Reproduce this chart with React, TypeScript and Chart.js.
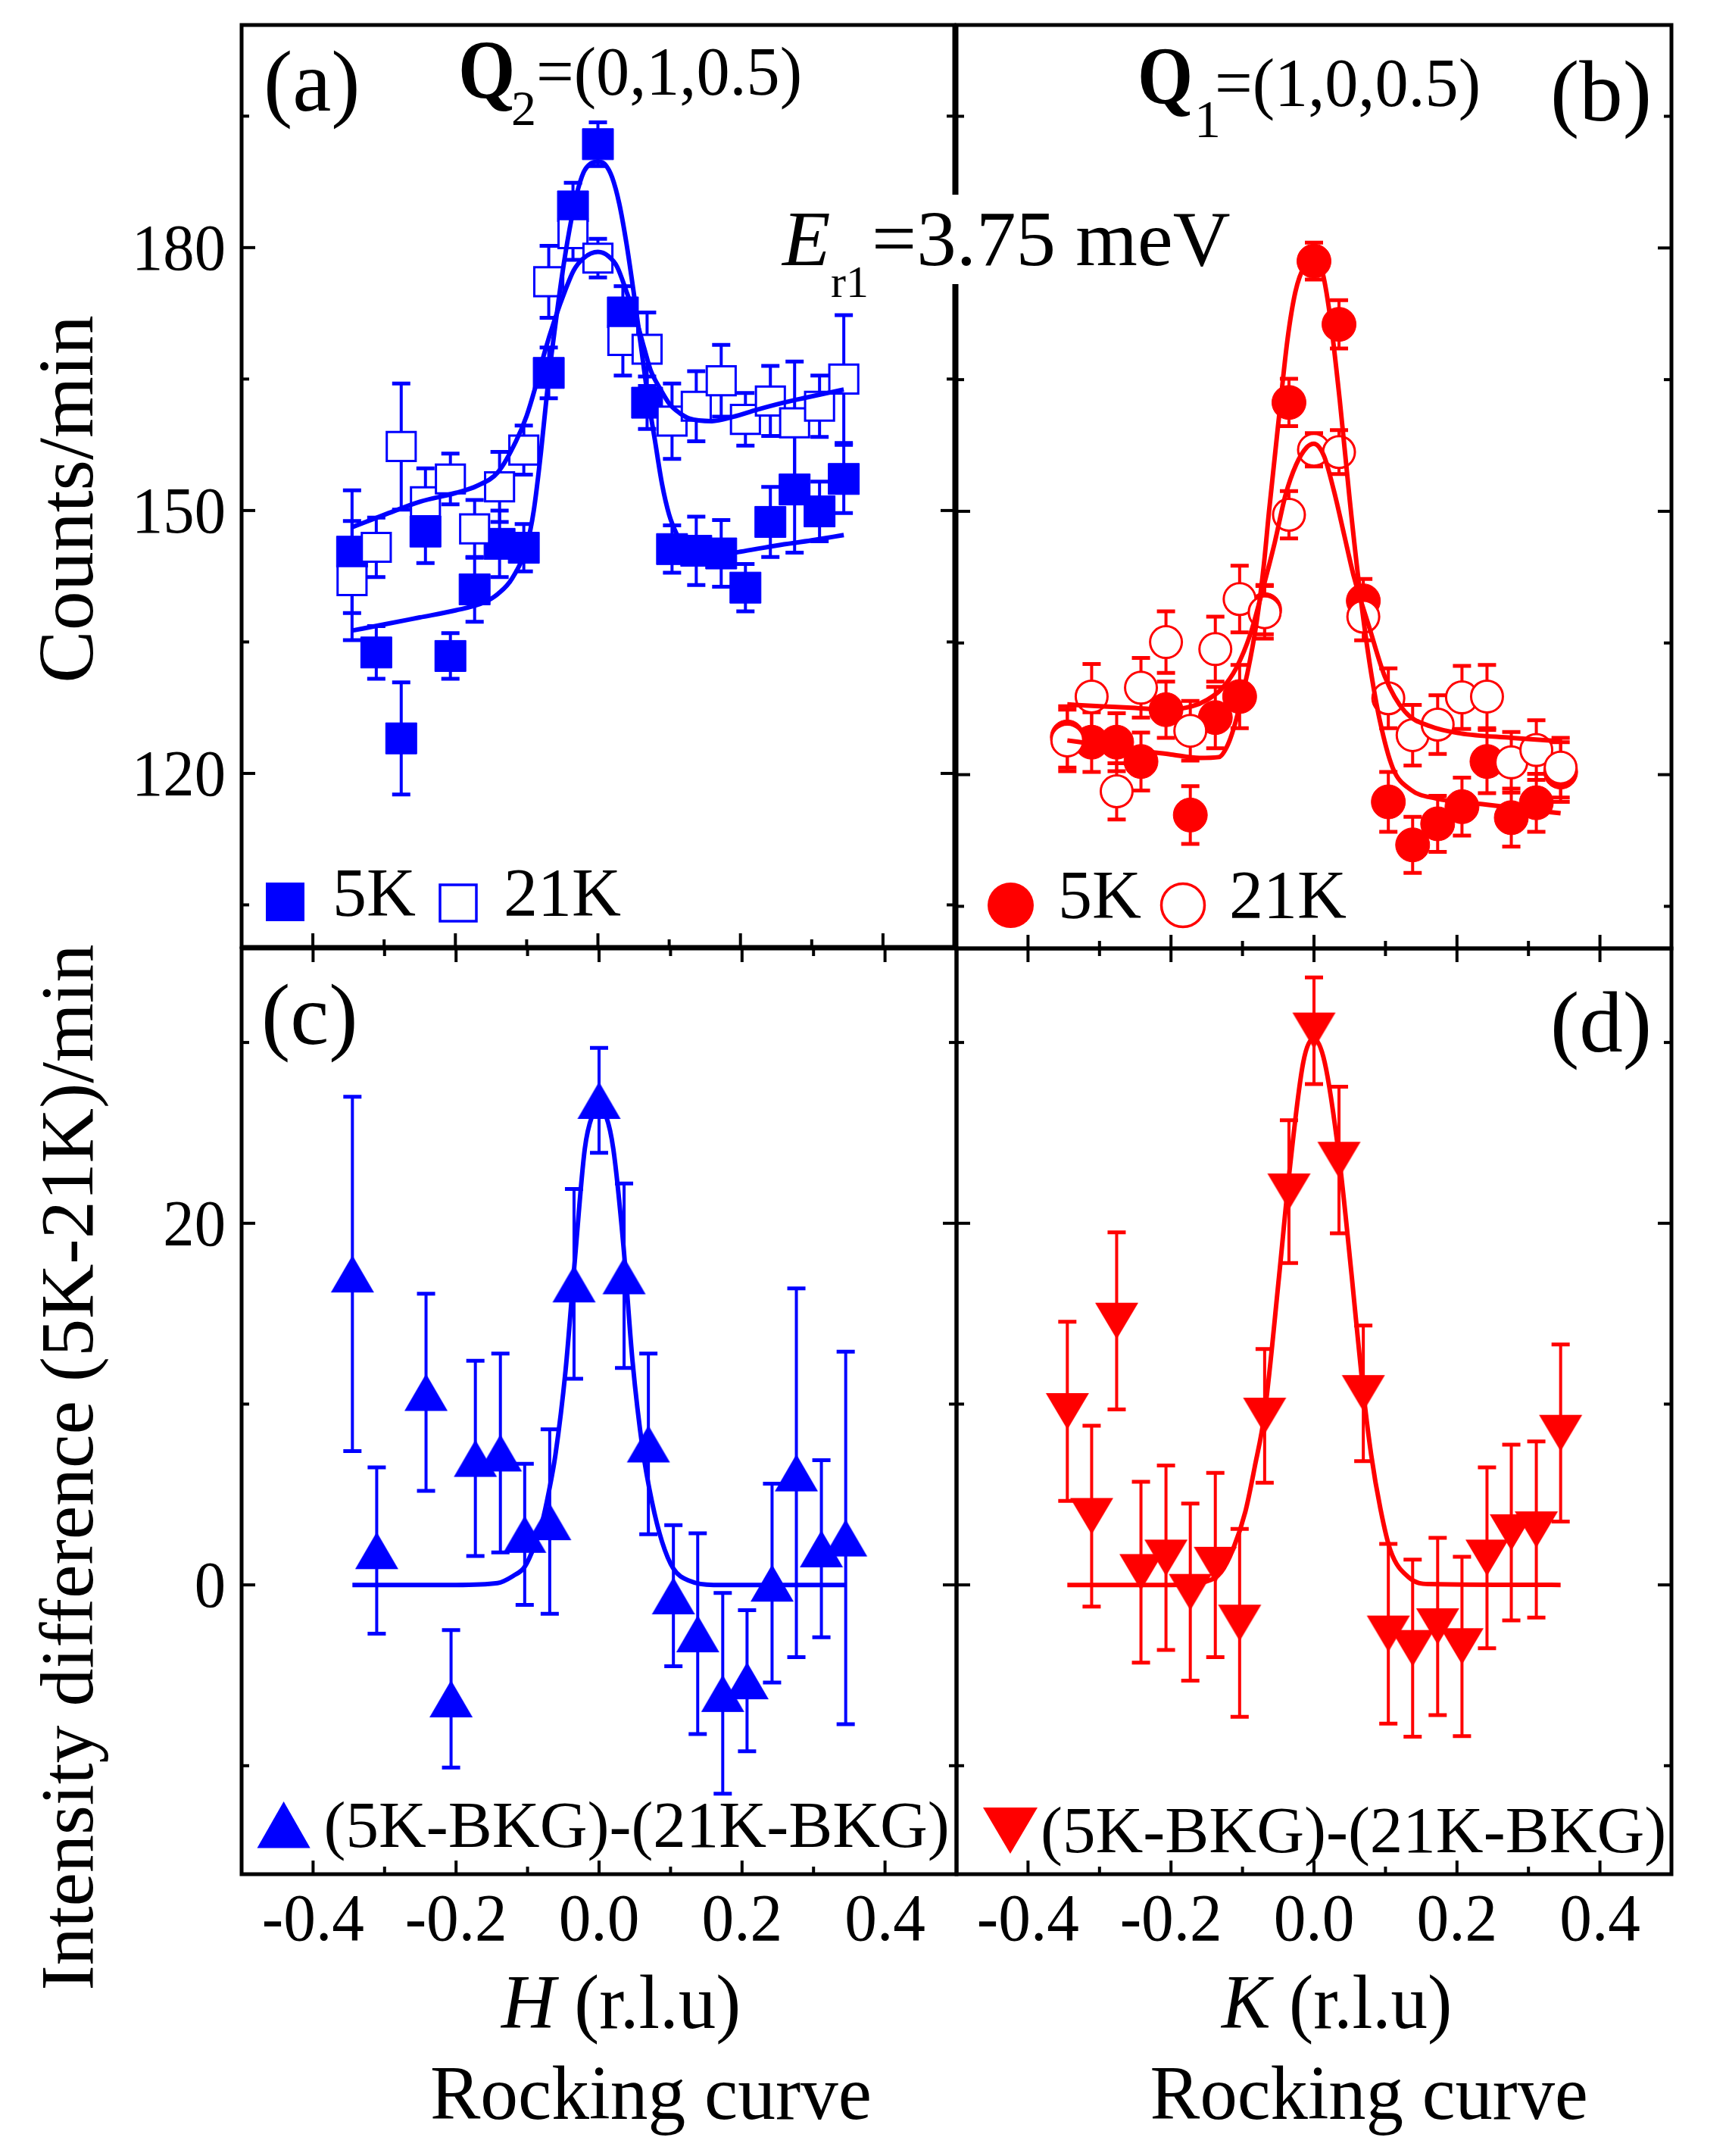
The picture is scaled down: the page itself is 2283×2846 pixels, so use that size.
import React, { useEffect, useRef } from 'react';
import { Chart, registerables } from 'chart.js';
Chart.register(...registerables);

const BLUE = '#0000ff';
const RED = '#ff0000';
const FONT = '"Liberation Serif", "Times New Roman", serif';

// ---------- data ----------
const H_POS = [-0.345, -0.311, -0.276, -0.242, -0.207, -0.173, -0.138, -0.104, -0.069, -0.035, 0, 0.035, 0.069, 0.104, 0.138, 0.173, 0.207, 0.242, 0.276, 0.311, 0.345];

// (a) Q2 = (0,1,0.5), H scan
const A_5K = [145.3, 133.8, 124.0, 147.6, 133.4, 141.0, 146.2, 145.75, 165.7, 184.7, 191.8, 172.6, 162.3, 145.6, 145.4, 145.1, 141.2, 148.7, 152.4, 149.9, 153.6];
const A_5K_ERR = [7, 3, 6.4, 3.6, 2.6, 3.7, 3.8, 2.7, 2.9, 2.7, 2.5, 3, 3, 2.7, 3.9, 3.8, 2.7, 4, 7.2, 3.4, 3.9];
const A_21K = [142, 145.8, 157.3, 151, 153.6, 147.9, 152.7, 156.9, 176.1, 181.6, 178.8, 169.4, 168.4, 160.2, 161.9, 164.8, 160.4, 162.5, 160, 161.9, 165];
const A_21K_ERR = [6.8, 3.4, 7.2, 3.8, 2.9, 3.3, 4, 2.8, 4.1, 3, 2.2, 4, 4.2, 4.3, 4, 4.1, 3, 4, 7, 3.5, 7.3];
const A_FIT5K_H = [-0.345, -0.3, -0.25, -0.2, -0.16, -0.14, -0.12, -0.1, -0.09, -0.08, -0.07, -0.06, -0.05, -0.04, -0.03, -0.02, -0.01, 0, 0.01, 0.02, 0.03, 0.04, 0.05, 0.06, 0.07, 0.08, 0.09, 0.1, 0.11, 0.12, 0.14, 0.16, 0.2, 0.25, 0.3, 0.345];
const A_FIT5K_Y = [136.3, 137, 137.8, 138.6, 139.5, 140.5, 142.3, 146, 150, 156.6, 164.5, 171, 177, 182, 186, 188.6, 189.6, 189.8, 189.5, 188, 185, 180.5, 175, 169, 163, 158, 153, 149.5, 147.4, 146, 145, 144.8, 145.3, 146, 146.6, 147.2];
const A_FIT21K_H = [-0.345, -0.3, -0.25, -0.2, -0.17, -0.14, -0.115, -0.1, -0.088, -0.075, -0.061, -0.045, -0.034, -0.02, 0, 0.015, 0.027, 0.04, 0.054, 0.065, 0.074, 0.088, 0.101, 0.115, 0.128, 0.16, 0.19, 0.223, 0.26, 0.29, 0.345];
const A_FIT21K_Y = [148.1, 149.5, 151, 152, 152.8, 154.4, 157.9, 160.8, 164, 168, 171.7, 175.3, 177.4, 178.8, 179.5, 179, 177.8, 175, 171.7, 168.5, 166, 163.8, 162.1, 161.1, 160.5, 160.2, 160.7, 161.5, 162.3, 162.85, 163.8];

// (b) Q1 = (1,0,0.5), K scan
const B_5K = [124.3, 123.7, 123.7, 121.5, 127.4, 115.4, 126.5, 128.9, 138.8, 162.4, 178.5, 171.3, 139.8, 116.9, 112, 114.4, 116.35, 121.5, 115.1, 116.8, 120.3];
const B_5K_ERR = [3.5, 3.4, 3.3, 3.3, 3.2, 3.3, 3.5, 3.6, 2.8, 2.7, 2.1, 2.75, 2.5, 3.4, 3.2, 3.2, 3.3, 3.6, 3.3, 3.3, 3.4];
const B_21K = [123.9, 128.9, 118.1, 129.9, 135.1, 125.0, 134.3, 140.0, 138.5, 149.6, 157.0, 156.75, 138.0, 128.7, 124.5, 125.7, 128.8, 128.9, 121.4, 122.8, 120.8];
const B_21K_ERR = [3.5, 3.7, 3.2, 3.4, 3.5, 3.4, 3.7, 3.8, 3.0, 2.7, 1.9, 2.5, 2.7, 3.4, 3.45, 3.35, 3.6, 3.6, 3.45, 3.4, 3.4];
const B_FIT5K_K = [-0.345, -0.3, -0.25, -0.2, -0.16, -0.133, -0.12, -0.109, -0.093, -0.08, -0.07, -0.063, -0.049, -0.037, -0.026, -0.013, 0, 0.011, 0.022, 0.036, 0.05, 0.064, 0.078, 0.092, 0.11, 0.135, 0.17, 0.24, 0.3, 0.345];
const B_FIT5K_Y = [123.9, 123.4, 122.8, 122.3, 121.9, 122, 123.5, 126.2, 131.6, 137.5, 144, 149.9, 160.7, 169.6, 175, 178, 178.8, 177.5, 172.5, 162.7, 151.3, 141, 132.6, 126.2, 120.8, 118.3, 117.3, 116.6, 116, 115.6];
const B_FIT21K_K = [-0.345, -0.3, -0.25, -0.207, -0.17, -0.15, -0.13, -0.109, -0.089, -0.072, -0.055, -0.04, -0.025, -0.01, 0, 0.014, 0.028, 0.042, 0.056, 0.078, 0.099, 0.127, 0.163, 0.205, 0.276, 0.345];
const B_FIT21K_Y = [128, 127.8, 127.6, 127.4, 127.8, 128.5, 129.7, 132.1, 136, 141, 146.4, 151.8, 155.3, 157.3, 157.7, 156.3, 152.3, 147.4, 142.5, 136.6, 131.2, 127.2, 125.5, 124.7, 124.2, 123.8];

// (c) difference, H scan
const C_H = [-0.345, -0.311, -0.242, -0.207, -0.173, -0.138, -0.104, -0.069, -0.035, 0, 0.035, 0.069, 0.104, 0.138, 0.173, 0.207, 0.242, 0.276, 0.311, 0.345];
const C_DIFF = [17.2, 1.9, 10.65, -6.3, 7.0, 7.3, 2.8, 3.5, 16.65, 26.8, 17.1, 7.8, -0.6, -2.7, -6.0, -5.3, 0.1, 6.2, 2.0, 2.6];
const C_ERR = [9.8, 4.6, 5.45, 3.8, 5.4, 5.5, 3.9, 5.1, 5.25, 2.9, 5.1, 5.0, 3.9, 5.55, 5.55, 3.9, 5.5, 10.2, 4.9, 10.3];
const C_FIT_H = [-0.345, -0.2, -0.142, -0.12, -0.104, -0.09, -0.08, -0.07, -0.061, -0.047, -0.034, -0.02, -0.01, 0, 0.01, 0.02, 0.034, 0.047, 0.061, 0.074, 0.088, 0.104, 0.128, 0.16, 0.345];
const C_FIT_Y = [0, 0, 0.1, 0.5, 1.0, 2.2, 3.4, 5.2, 7.2, 11.8, 17.9, 24.1, 25.9, 26.3, 25.9, 24.1, 18.8, 12.3, 7.5, 4.6, 2.4, 0.9, 0.2, 0, 0];

// (d) difference, K scan
const D_DIFF = [9.6, 3.8, 14.6, 0.7, 1.5, -0.4, 1.1, -2.1, 9.35, 21.75, 30.65, 23.5, 10.6, -2.7, -3.5, -2.3, -3.4, 1.5, 2.9, 3.06, 8.4];
const D_ERR = [4.95, 5, 4.9, 5, 5.1, 4.9, 5.1, 5.2, 3.7, 3.95, 2.95, 4.05, 3.75, 4.97, 4.9, 4.9, 4.96, 5, 4.86, 4.87, 4.9];
const D_FIT_K = [-0.345, -0.2, -0.15, -0.13, -0.113, -0.096, -0.083, -0.069, -0.049, -0.035, -0.015, 0, 0.015, 0.035, 0.053, 0.067, 0.08, 0.093, 0.107, 0.133, 0.16, 0.345];
const D_FIT_Y = [0, 0, 0.2, 0.7, 2.0, 4.05, 6.5, 9.5, 17, 22.6, 28.9, 30.2, 28.9, 23.7, 17, 11.4, 7.2, 4.2, 1.9, 0.4, 0.05, 0];

// ticks
const X_MAJOR = [-0.4, -0.2, 0, 0.2, 0.4];
const X_MINOR = [-0.3, -0.1, 0.1, 0.3];
const X_LABELS = ['-0.4', '-0.2', '0.0', '0.2', '0.4'];
const TOP_Y_MAJOR = [120, 150, 180];
const TOP_Y_MINOR = [105, 135, 165, 195];
const TOP_Y_LABELS = ['120', '150', '180'];
const BOT_Y_MAJOR = [0, 20];
const BOT_Y_MINOR = [-10, 10, 30];
const BOT_Y_LABELS = ['0', '20'];

// ---------- helpers ----------
const zip = (xs: number[], ys: number[]) => xs.map((x, i) => ({ x, y: ys[i] }));

function text(ctx: CanvasRenderingContext2D, s: string, x: number, y: number, size: number,
  o: { align?: CanvasTextAlign; italic?: boolean; bold?: boolean; hs?: number } = {}) {
  ctx.save();
  ctx.font = `${o.italic ? 'italic ' : ''}${o.bold ? 'bold ' : ''}${size}px ${FONT}`;
  ctx.textAlign = o.align || 'left';
  ctx.textBaseline = 'alphabetic';
  ctx.fillStyle = '#000';
  ctx.translate(x, y);
  ctx.scale(o.hs || 1, 1);
  ctx.fillText(s, 0, 0);
  const w = ctx.measureText(s).width * (o.hs || 1);
  ctx.restore();
  return w;
}

function vtext(ctx: CanvasRenderingContext2D, s: string, x: number, y: number, size: number) {
  ctx.save();
  ctx.font = `${size}px ${FONT}`;
  ctx.textAlign = 'center';
  ctx.textBaseline = 'alphabetic';
  ctx.fillStyle = '#000';
  ctx.translate(x, y);
  ctx.rotate(-Math.PI / 2);
  ctx.fillText(s, 0, 0);
  ctx.restore();
}

function triangleImage(color: string, w: number, h: number, up: boolean) {
  const c = document.createElement('canvas');
  c.width = Math.round(w) + 2;
  c.height = Math.round(h) + 2;
  const g = c.getContext('2d')!;
  g.fillStyle = color;
  g.beginPath();
  if (up) {
    g.moveTo(c.width / 2, 1);
    g.lineTo(c.width - 1, c.height - 1);
    g.lineTo(1, c.height - 1);
  } else {
    g.moveTo(1, 1);
    g.lineTo(c.width - 1, 1);
    g.lineTo(c.width / 2, c.height - 1);
  }
  g.closePath();
  g.fill();
  return c;
}

function tri(ctx: CanvasRenderingContext2D, l: number, t: number, r: number, b: number, up: boolean, color: string) {
  ctx.save();
  ctx.fillStyle = color;
  ctx.beginPath();
  if (up) { ctx.moveTo((l + r) / 2, t); ctx.lineTo(r, b); ctx.lineTo(l, b); }
  else { ctx.moveTo(l, t); ctx.lineTo(r, t); ctx.lineTo((l + r) / 2, b); }
  ctx.closePath();
  ctx.fill();
  ctx.restore();
}

type Spec = {
  ox: number; oy: number; w: number; h: number;
  pad: { left: number; top: number; right: number; bottom: number };
  yMin: number; yMax: number;
  yMajor: number[]; yMinor: number[]; yLabels: string[] | null;
  xLabels: boolean; topTicks: boolean;
  datasets: () => any[];
  decorate: (ctx: CanvasRenderingContext2D) => void;
};

function lineDs(xs: number[], ys: number[], color: string) {
  return {
    data: zip(xs, ys), showLine: true, fill: false, borderColor: color, borderWidth: 6,
    pointRadius: 0, cubicInterpolationMode: 'monotone', order: 0,
  };
}

function buildConfig(spec: Spec): any {
  const errPlugin = {
    id: 'errbars',
    beforeDatasetsDraw(chart: any) {
      const { ctx } = chart;
      const xs = chart.scales.x, ys = chart.scales.y;
      chart.data.datasets.forEach((ds: any) => {
        if (!ds.errors) return;
        ctx.save();
        ctx.strokeStyle = ds.errColor;
        ctx.lineWidth = 4;
        ds.data.forEach((p: any, j: number) => {
          const e = ds.errors[j];
          const px = xs.getPixelForValue(p.x);
          const y1 = ys.getPixelForValue(p.y + e);
          const y2 = ys.getPixelForValue(p.y - e);
          ctx.beginPath();
          ctx.moveTo(px, y1); ctx.lineTo(px, y2);
          ctx.stroke();
          ctx.lineWidth = 5;
          ctx.beginPath();
          ctx.moveTo(px - 12, y1); ctx.lineTo(px + 12, y1);
          ctx.moveTo(px - 12, y2); ctx.lineTo(px + 12, y2);
          ctx.stroke();
          ctx.lineWidth = 4;
        });
        ctx.restore();
      });
    },
  };
  const framePlugin = {
    id: 'frame',
    afterDatasetsDraw(chart: any) {
      const { ctx, chartArea: a } = chart;
      const xs = chart.scales.x, ys = chart.scales.y;
      ctx.save();
      ctx.strokeStyle = '#000';
      ctx.lineWidth = 4;
      const seg = (x1: number, y1: number, x2: number, y2: number) => {
        ctx.beginPath(); ctx.moveTo(x1, y1); ctx.lineTo(x2, y2); ctx.stroke();
      };
      const yt = (vals: number[], len: number) => vals.forEach((v) => {
        const py = ys.getPixelForValue(v);
        seg(a.left, py, a.left + len, py);
        seg(a.right, py, a.right - len, py);
      });
      const xt = (vals: number[], len: number) => vals.forEach((v) => {
        const px = xs.getPixelForValue(v);
        seg(px, a.bottom, px, a.bottom - len);
        if (spec.topTicks) seg(px, a.top, px, a.top + len);
      });
      yt(spec.yMajor, 18); yt(spec.yMinor, 10);
      xt(X_MAJOR, 18); xt(X_MINOR, 10);
      ctx.lineWidth = 5;
      ctx.strokeRect(a.left, a.top, a.right - a.left, a.bottom - a.top);
      ctx.restore();
    },
    afterDraw(chart: any) {
      const { ctx } = chart;
      const xs = chart.scales.x, ys = chart.scales.y;
      ctx.save();
      if (spec.yLabels) {
        spec.yMajor.forEach((v, i) =>
          text(ctx, spec.yLabels![i], 298 - spec.ox, ys.getPixelForValue(v) + 29, 87, { align: 'right', hs: 0.95 }));
      }
      if (spec.xLabels) {
        X_MAJOR.forEach((v, i) =>
          text(ctx, X_LABELS[i], xs.getPixelForValue(v), 2561 - spec.oy, 88, { align: 'center', hs: 0.97 }));
      }
      ctx.translate(-spec.ox, -spec.oy);
      spec.decorate(ctx);
      ctx.restore();
    },
  };
  return {
    type: 'scatter',
    data: { datasets: spec.datasets() },
    options: {
      responsive: false,
      maintainAspectRatio: false,
      animation: false,
      devicePixelRatio: 1,
      events: [],
      layout: { padding: spec.pad },
      scales: {
        x: { type: 'linear', min: -0.5, max: 0.5, display: false },
        y: { type: 'linear', min: spec.yMin, max: spec.yMax, display: false },
      },
      plugins: { legend: { display: false }, tooltip: { enabled: false } },
    },
    plugins: [errPlugin, framePlugin],
  };
}

// ---------- panels ----------
const TOP_MIN = 100.2, TOP_MAX = 205.4;
const BOT_MIN = -16.0, BOT_MAX = 35.2;

const specA: Spec = {
  ox: 0, oy: 0, w: 1290, h: 1280,
  pad: { left: 319, top: 33, right: 27, bottom: 28 },
  yMin: TOP_MIN, yMax: TOP_MAX, yMajor: TOP_Y_MAJOR, yMinor: TOP_Y_MINOR, yLabels: TOP_Y_LABELS,
  xLabels: false, topTicks: false,
  datasets: () => [
    lineDs(A_FIT5K_H, A_FIT5K_Y, BLUE),
    lineDs(A_FIT21K_H, A_FIT21K_Y, BLUE),
    {
      data: zip(H_POS, A_5K), errors: A_5K_ERR, errColor: BLUE, pointStyle: 'rect', pointRadius: 29,
      backgroundColor: BLUE, borderColor: BLUE, borderWidth: 1, order: 2,
    },
    {
      data: zip(H_POS, A_21K), errors: A_21K_ERR, errColor: BLUE, pointStyle: 'rect', pointRadius: 27,
      backgroundColor: '#ffffff', borderColor: BLUE, borderWidth: 3, order: 1,
    },
  ],
  decorate: (ctx) => {
    vtext(ctx, 'Counts/min', 122, 659, 104);
    text(ctx, '(a)', 348, 146, 115);
    text(ctx, 'Q', 605, 129, 110, { bold: true, hs: 0.88 });
    text(ctx, '2', 675, 165, 66);
    text(ctx, '=(0,1,0.5)', 708, 125, 90, { hs: 0.98 });
    ctx.fillStyle = BLUE;
    ctx.fillRect(351, 1165, 51, 51);
    ctx.strokeStyle = BLUE; ctx.lineWidth = 3.5;
    ctx.strokeRect(581, 1168, 48, 48);
    text(ctx, '5K', 439, 1209, 90);
    text(ctx, '21K', 665, 1209, 90);
  },
};

const specB: Spec = {
  ox: 990, oy: 0, w: 1293, h: 1280,
  pad: { left: 273, top: 33, right: 76, bottom: 28 },
  yMin: TOP_MIN, yMax: TOP_MAX, yMajor: TOP_Y_MAJOR, yMinor: TOP_Y_MINOR, yLabels: null,
  xLabels: false, topTicks: false,
  datasets: () => [
    lineDs(B_FIT5K_K, B_FIT5K_Y, RED),
    lineDs(B_FIT21K_K, B_FIT21K_Y, RED),
    {
      data: zip(H_POS, B_5K), errors: B_5K_ERR, errColor: RED, pointStyle: 'circle', pointRadius: 22.5,
      backgroundColor: RED, borderColor: RED, borderWidth: 1, order: 2,
    },
    {
      data: zip(H_POS, B_21K), errors: B_21K_ERR, errColor: RED, pointStyle: 'circle', pointRadius: 21,
      backgroundColor: '#ffffff', borderColor: RED, borderWidth: 3, order: 1,
    },
  ],
  decorate: (ctx) => {
    text(ctx, '(b)', 2047, 159, 115);
    text(ctx, 'Q', 1502, 136, 108, { bold: true, hs: 0.87 });
    text(ctx, '1', 1577, 181, 70);
    text(ctx, '=(1,0,0.5)', 1604, 140, 90, { hs: 0.98 });
    // energy annotation across the divider
    ctx.fillStyle = '#ffffff';
    ctx.fillRect(1160, 257, 220, 118);
    text(ctx, 'E', 1033, 350, 104, { italic: true });
    text(ctx, 'r1', 1097, 392, 60);
    text(ctx, '=3.75 meV', 1151, 350, 104, { hs: 1.01 });
    // legend
    ctx.fillStyle = RED;
    ctx.beginPath(); ctx.ellipse(1334.5, 1195, 30.5, 30, 0, 0, Math.PI * 2); ctx.fill();
    ctx.strokeStyle = RED; ctx.lineWidth = 3.5;
    ctx.beginPath(); ctx.ellipse(1562, 1195, 28.5, 28.5, 0, 0, Math.PI * 2); ctx.stroke();
    text(ctx, '5K', 1397, 1212, 90);
    text(ctx, '21K', 1623, 1212, 90);
  },
};

let triUp: HTMLCanvasElement | null = null;
let triDown: HTMLCanvasElement | null = null;

const specC: Spec = {
  ox: 0, oy: 1225, w: 1290, h: 1621,
  pad: { left: 319, top: 27, right: 27, bottom: 372 },
  yMin: BOT_MIN, yMax: BOT_MAX, yMajor: BOT_Y_MAJOR, yMinor: BOT_Y_MINOR, yLabels: BOT_Y_LABELS,
  xLabels: true, topTicks: true,
  datasets: () => {
    if (!triUp) triUp = triangleImage(BLUE, 57, 49, true);
    return [
      lineDs(C_FIT_H, C_FIT_Y, BLUE),
      {
        data: zip(C_H, C_DIFF), errors: C_ERR, errColor: BLUE, pointStyle: triUp, pointRadius: 25,
        backgroundColor: BLUE, borderColor: BLUE, borderWidth: 0, order: 1,
      },
    ];
  },
  decorate: (ctx) => {
    vtext(ctx, 'Intensity difference (5K-21K)/min', 122, 1937, 100);
    text(ctx, '(c)', 345, 1378, 115);
    tri(ctx, 339.5, 2378, 409.7, 2439.6, true, BLUE);
    text(ctx, '(5K-BKG)-(21K-BKG)', 427.5, 2438, 87);
    const w = text(ctx, 'H', 662, 2677, 101, { italic: true, hs: 0.98 });
    text(ctx, ' (r.l.u)', 662 + w, 2677, 101, { hs: 0.98 });
    text(ctx, 'Rocking curve', 568, 2797, 101, { hs: 0.985 });
  },
};

const specD: Spec = {
  ox: 1236, oy: 1225, w: 1047, h: 1621,
  pad: { left: 27, top: 27, right: 76, bottom: 372 },
  yMin: BOT_MIN, yMax: BOT_MAX, yMajor: BOT_Y_MAJOR, yMinor: BOT_Y_MINOR, yLabels: null,
  xLabels: true, topTicks: true,
  datasets: () => {
    if (!triDown) triDown = triangleImage(RED, 57, 48, false);
    return [
      lineDs(D_FIT_K, D_FIT_Y, RED),
      {
        data: zip(H_POS, D_DIFF), errors: D_ERR, errColor: RED, pointStyle: triDown, pointRadius: 25,
        backgroundColor: RED, borderColor: RED, borderWidth: 0, order: 1,
      },
    ];
  },
  decorate: (ctx) => {
    text(ctx, '(d)', 2047, 1388, 115);
    tri(ctx, 1298, 2386, 1370, 2447, false, RED);
    text(ctx, '(5K-BKG)-(21K-BKG)', 1374, 2445, 87);
    const w = text(ctx, 'K', 1613, 2677, 101, { italic: true, hs: 0.96 });
    text(ctx, ' (r.l.u)', 1613 + w, 2677, 101, { hs: 0.96 });
    text(ctx, 'Rocking curve', 1518.6, 2797, 101, { hs: 0.977 });
  },
};

function Panel({ spec }: { spec: Spec }) {
  const ref = useRef<HTMLCanvasElement>(null);
  useEffect(() => {
    const chart = new Chart(ref.current!, buildConfig(spec));
    return () => chart.destroy();
  }, [spec]);
  return (
    <canvas
      ref={ref}
      width={spec.w}
      height={spec.h}
      style={{ position: 'absolute', left: spec.ox, top: spec.oy, width: spec.w, height: spec.h }}
    />
  );
}

export default function App() {
  return (
    <div style={{ position: 'absolute', left: 0, top: 0, width: 2283, height: 2846, background: '#ffffff', overflow: 'hidden' }}>
      <Panel spec={specA} />
      <Panel spec={specC} />
      <Panel spec={specB} />
      <Panel spec={specD} />
    </div>
  );
}
